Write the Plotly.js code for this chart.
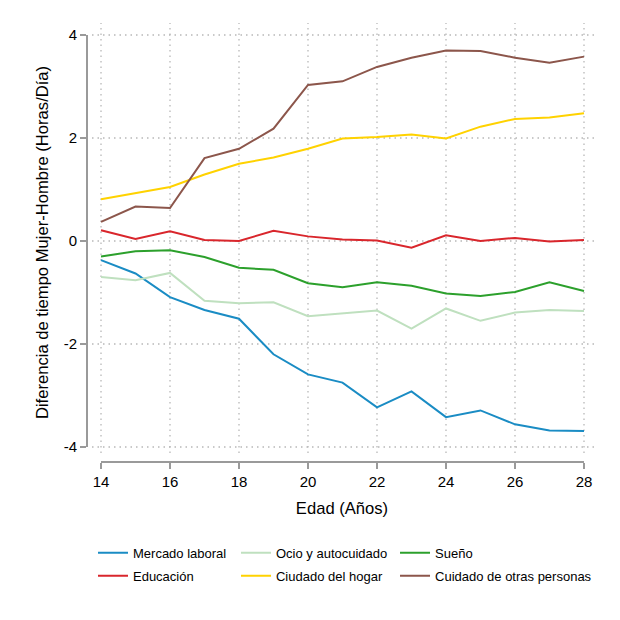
<!DOCTYPE html>
<html>
<head>
<meta charset="utf-8">
<script src="https://cdn.plot.ly/plotly-3.0.1.min.js"></script>
<style>html,body{margin:0;padding:0;background:#fff;}#chart{width:620px;height:620px;}</style>
</head>
<body>
<div id="chart"></div>
<script>
var ages = [14,15,16,17,18,19,20,21,22,23,24,25,26,27,28];
var mercadoLaboral = [-0.37,-0.63,-1.09,-1.34,-1.51,-2.20,-2.59,-2.75,-3.23,-2.92,-3.42,-3.29,-3.56,-3.68,-3.69];
var educacion = [0.21,0.04,0.19,0.02,0.00,0.20,0.09,0.03,0.01,-0.13,0.11,0.00,0.06,-0.01,0.02];
var ocio = [-0.70,-0.76,-0.62,-1.16,-1.21,-1.19,-1.46,-1.40,-1.35,-1.70,-1.31,-1.55,-1.39,-1.34,-1.36];
var hogar = [0.81,0.93,1.05,1.29,1.50,1.62,1.79,1.99,2.02,2.07,1.99,2.22,2.37,2.40,2.48];
var sueno = [-0.30,-0.20,-0.18,-0.31,-0.52,-0.56,-0.82,-0.90,-0.80,-0.87,-1.02,-1.07,-0.99,-0.80,-0.97];
var otras = [0.37,0.67,0.64,1.61,1.79,2.18,3.03,3.10,3.38,3.56,3.70,3.69,3.56,3.46,3.58];

var xTicks = [14,16,18,20,22,24,26,28];
var yTicks = [-4,-2,0,2,4];

var names = ["Mercado laboral","Educación","Ocio y autocuidado","Ciudado del hogar","Sueño","Cuidado de otras personas"];
var series = [mercadoLaboral, educacion, ocio, hogar, sueno, otras];
var colors = ["#1a8cc4","#d9262c","#bfe0bf","#ffd200","#2ca02c","#8c564b"];
var legendIds = ["legend","legend2","legend3","legend4","legend5","legend6"];

var traces = series.map(function(s,i){
  return {x: ages, y: s, type: 'scatter', mode: 'lines', name: names[i],
    line: {color: colors[i], width: 2}, legend: legendIds[i], cliponaxis: false};
});

var font = "Liberation Sans, Arial, Helvetica, sans-serif";
var axisCol = '#9a9a9a';
var gridCol = '#b8b8b8';
var gridDash = '1.5px,4px';

// plot region (grid extent) in paper fractions
var gridX0 = 0.05926, gridX1 = 0.99444;
var gridY0 = 0.03778, gridY1 = 0.99333;

var shapes = [];
xTicks.forEach(function(t){
  shapes.push({type: 'line', layer: 'below', xref: 'x', yref: 'paper', x0: t, x1: t, y0: gridY0, y1: gridY1,
    line: {color: gridCol, width: 1.3, dash: gridDash}});
});
yTicks.forEach(function(t){
  shapes.push({type: 'line', layer: 'below', xref: 'paper', yref: 'y', x0: gridX0, x1: gridX1, y0: t, y1: t,
    line: {color: gridCol, width: 1.3, dash: gridDash}});
});
// detached axis lines spanning the tick range
shapes.push({type: 'line', xref: 'x', yref: 'paper', x0: xTicks[0], x1: xTicks[xTicks.length-1], y0: 0.01778, y1: 0.01778,
  line: {color: axisCol, width: 2}});
shapes.push({type: 'line', xref: 'paper', yref: 'y', x0: 0.05, x1: 0.05, y0: yTicks[0], y1: yTicks[yTicks.length-1],
  line: {color: axisCol, width: 2}});

var legFont = {family: font, size: 13, color: '#000'};
var legBase = {orientation: 'v', xref: 'paper', yref: 'paper', xanchor: 'left', yanchor: 'top',
  bgcolor: 'rgba(0,0,0,0)', font: legFont, tracegroupgap: 0};
// legend grid: columns (paper x) and rows (paper y)
var legCols = [0.0611, 0.3259, 0.6204];
var legRows = [-0.1507, -0.2018];
var legendPos = [[0,0],[0,1],[1,0],[1,1],[2,0],[2,1]]; // [col,row] for each series

var layout = {
  width: 620, height: 620,
  margin: {l: 60, r: 20, t: 20, b: 150},
  paper_bgcolor: '#fff', plot_bgcolor: 'rgba(0,0,0,0)',
  font: {family: font, color: '#000'},
  showlegend: true,
  xaxis: {
    domain: [0.05, 0.99444], range: [13.594, 28.377],
    tickmode: 'array', tickvals: xTicks, ticktext: xTicks.map(String),
    ticks: 'outside', ticklen: 6, tickwidth: 2, tickcolor: axisCol,
    showline: false, zeroline: false, showgrid: false,
    tickfont: {family: font, size: 15, color: '#000'},
    title: {text: 'Edad (Años)', font: {family: font, size: 16.6, color: '#000'}, standoff: 13}
  },
  yaxis: {
    domain: [0.01778, 0.99333], range: [-4.291, 4.233],
    tickmode: 'array', tickvals: yTicks, ticktext: yTicks.map(String),
    ticks: 'outside', ticklen: 6, tickwidth: 2, tickcolor: axisCol,
    showline: false, zeroline: false, showgrid: false,
    tickfont: {family: font, size: 15, color: '#000'},
    title: {text: 'Diferencia de tiempo Mujer-Hombre (Horas/Día)', font: {family: font, size: 16.6, color: '#000'}, standoff: 10}
  },
  shapes: shapes
};
legendIds.forEach(function(id, i){
  layout[id] = Object.assign({}, legBase, {x: legCols[legendPos[i][0]], y: legRows[legendPos[i][1]]});
});

Plotly.newPlot('chart', traces, layout, {displayModeBar: false, staticPlot: true});
</script>
</body>
</html>
